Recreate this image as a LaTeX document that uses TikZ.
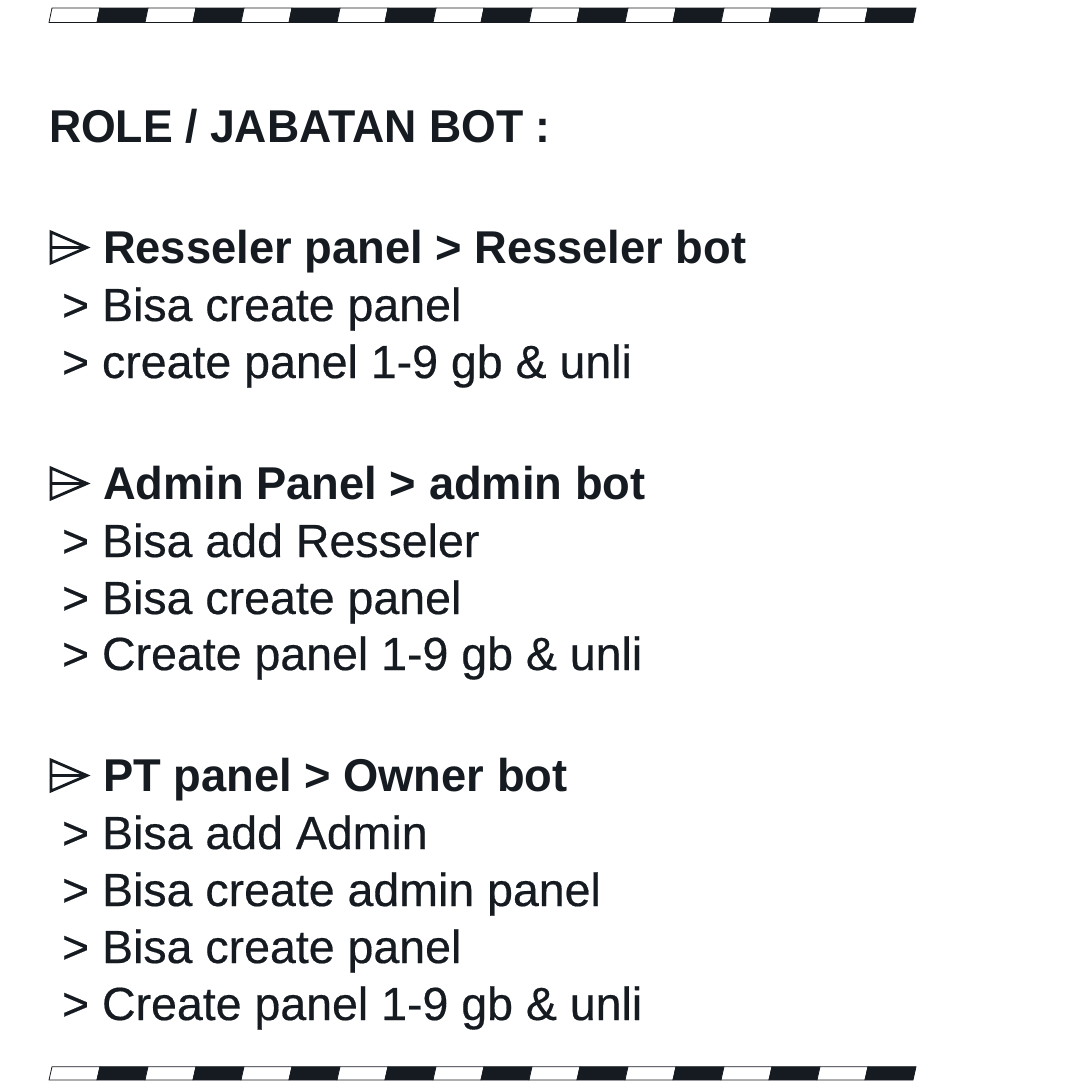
\documentclass[tikz,border=0pt]{standalone}
\usepackage{fontspec}
\setmainfont{Liberation Sans}
\newfontfamily\tfont[FakeStretch=0.97]{Liberation Sans}
\newfontfamily\hfont[FakeStretch=0.985]{Liberation Sans}
\newfontfamily\bfont[FakeBold=0.4]{Liberation Sans}
\definecolor{ink}{HTML}{161B21}
\begin{document}
\begin{tikzpicture}[x=1pt,y=-1pt,
  txt/.style={anchor=base west, inner sep=0pt, outer sep=0pt, text=ink, font=\fontsize{46.5}{56}\selectfont\bfont},
  hdr/.style={anchor=base west, inner sep=0pt, outer sep=0pt, text=ink, font=\fontsize{46}{56}\selectfont\hfont\bfseries},
  ttl/.style={anchor=base west, inner sep=0pt, outer sep=0pt, text=ink, font=\fontsize{46}{56}\selectfont\tfont\bfseries},
  marker/.style={draw=ink, line width=2.8pt, line join=miter},
  seg/.style={draw=ink, line width=0.8pt}]
\useasboundingbox[fill=white] (0,0) rectangle (1080,1085);
% striped bars
\foreach \yt/\yb in {8/22.5, 1066.7/1080}{
  \foreach \i in {0,...,17}{
    \pgfmathsetmacro{\xa}{49+48*\i}
    \pgfmathsetmacro{\xb}{49+48*(\i+1)}
    \pgfmathtruncatemacro{\pty}{mod(\i,2)}
    \ifnum\pty=0 \def\fc{white}\else\def\fc{ink}\fi
    \draw[seg, fill=\fc] (\xa,\yb) -- (\xb,\yb) -- (\xb+3,\yt) -- (\xa+3,\yt) -- cycle;
  }
}
% heading
\node[ttl] (title) at (49,142) {ROLE / JABATAN BOT :};
% markers
\foreach \t/\nm in {232/m1, 468/m2, 760/m3}{
  \draw[marker] (51,\t) -- (87,\t+15.5) -- (51,\t+31) -- cycle;
  \draw[marker] (51,\t+15.5) -- (87,\t+15.5);
}
% section 1
\node[hdr] (h1) at (103,263) {Resseler panel > Resseler bot};
\node[txt] (a1) at (62,321) {> Bisa create panel};
\node[txt] (a2) at (62,378) {> create panel 1-9 gb \& unli};
% section 2
\node[hdr] (h2) at (103,499) {Admin Panel > admin bot};
\node[txt] (b1) at (62,557) {> Bisa add Resseler};
\node[txt] (b2) at (62,614) {> Bisa create panel};
\node[txt] (b3) at (62,670) {> Create panel 1-9 gb \& unli};
% section 3
\node[hdr] (h3) at (103,791) {PT panel > Owner bot};
\node[txt] (c1) at (62,849) {> Bisa add Admin};
\node[txt] (c2) at (62,906) {> Bisa create admin panel};
\node[txt] (c3) at (62,963) {> Bisa create panel};
\node[txt] (c4) at (62,1020) {> Create panel 1-9 gb \& unli};
\end{tikzpicture}
\end{document}
